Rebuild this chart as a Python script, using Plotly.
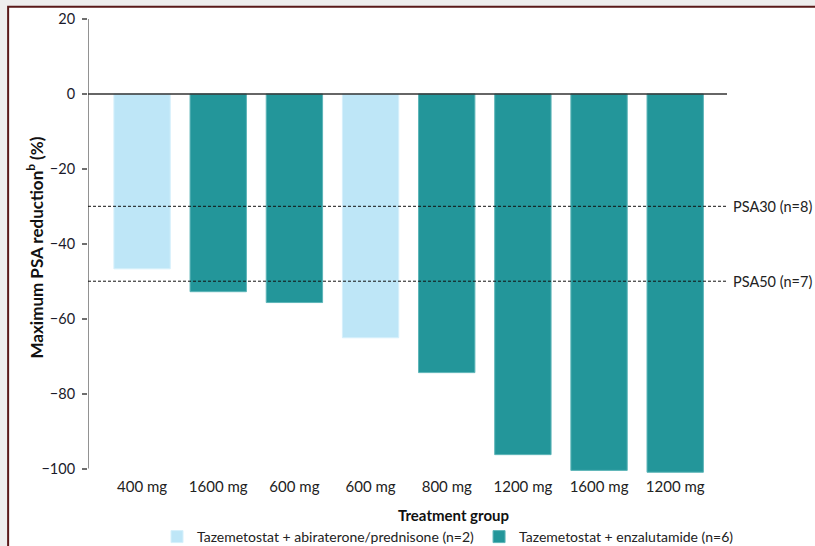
import plotly.graph_objects as go

# Treatment groups (dose per arm) and maximum PSA reduction, %
doses = ["400 mg", "1600 mg", "600 mg", "600 mg", "800 mg", "1200 mg", "1600 mg", "1200 mg"]
psa_change = [-46.7, -52.8, -55.7, -65.1, -74.4, -96.3, -100.5, -101.0]
combo = ["abi", "enza", "enza", "abi", "enza", "enza", "enza", "enza"]

abi_name = "Tazemetostat + abiraterone/prednisone (n=2)"
enza_name = "Tazemetostat + enzalutamide (n=6)"
abi_color = "#BEE6F7"
enza_color = "#23969A"

thresholds = [-30, -50]
threshold_labels = ["PSA30 (n=8)", "PSA50 (n=7)"]

yticks = [20, 0, -20, -40, -60, -80, -100]
ytick_text = ["20", "0", "\u221220", "\u221240", "\u221260", "\u221280", "\u2212100"]

FONT = "Lato"
idx = list(range(len(doses)))

fig = go.Figure()
for key, name, color, edge in [("abi", abi_name, abi_color, "#D6F0FB"),
                               ("enza", enza_name, enza_color, "#5DB5B8")]:
    xs = [i for i in idx if combo[i] == key]
    fig.add_trace(go.Bar(
        x=xs, y=[psa_change[i] for i in xs], name=name,
        marker=dict(color=color, line=dict(color=edge, width=1)),
        width=0.74,
    ))

x_lo, x_hi = -0.71, 7.68
plot_left, plot_width = 88, 639   # pixel columns of the plotting area
plot_top, plot_bottom = 19, 476   # pixel rows of the plotting area
plot_h = plot_bottom - plot_top

# frame around the figure
fig.add_shape(type="rect", xref="paper", yref="paper",
              x0=-0.125, x1=1.2, y0=-0.3, y1=1.027,
              fillcolor="white", line=dict(color="#5A1A1A", width=2), layer="below")

# y axis line from -100 to 20
fig.add_shape(type="line", xref="x", yref="y", x0=x_lo, x1=x_lo, y0=-100, y1=20,
              line=dict(color="#6E6E6E", width=1.5))
# zero baseline
fig.add_shape(type="line", xref="x", yref="y", x0=x_lo - 0.07, x1=x_hi, y0=0, y1=0,
              line=dict(color="#333333", width=1.5))

for t, lab in zip(thresholds, threshold_labels):
    fig.add_shape(type="line", xref="x", yref="y", x0=x_lo, x1=x_hi, y0=t, y1=t,
                  line=dict(color="#111111", width=1, dash="3px,2px"))
    fig.add_annotation(x=1, xref="paper", y=t, yref="y", text=lab, showarrow=False,
                       xanchor="left", xshift=4, font=dict(family=FONT, size=14.5, color="#222"))

# axis titles
fig.add_annotation(x=(453 - plot_left) / plot_width, xref="paper",
                   y=-(515 - plot_bottom) / plot_h, yref="paper",
                   text="<b>Treatment group</b>", showarrow=False,
                   xanchor="center", yanchor="middle",
                   font=dict(family=FONT, size=15, color="#111"))
fig.add_annotation(x=(35 - plot_left) / plot_width, xref="paper", y=0.5, yref="paper",
                   text="<b>Maximum PSA reduction<sup>b</sup> (%)</b>", showarrow=False,
                   textangle=-90, xanchor="center", yanchor="middle",
                   font=dict(family=FONT, size=17, color="#111"))

fig.update_layout(
    width=815, height=546,
    margin=dict(l=plot_left, r=815 - plot_left - plot_width, t=plot_top,
                b=546 - plot_bottom, autoexpand=False),
    paper_bgcolor="#EEEEEE", plot_bgcolor="white",
    barmode="overlay",
    font=dict(family=FONT, size=14, color="#222"),
    xaxis=dict(range=[x_lo, x_hi], tickmode="array", tickvals=idx, ticktext=doses,
               showline=False, showgrid=False, zeroline=False, ticks="",
               tickfont=dict(size=15)),
    yaxis=dict(range=[-102, 20], tickmode="array", tickvals=yticks, ticktext=ytick_text,
               showline=False, showgrid=False, zeroline=False,
               ticks="outside", ticklen=5, tickcolor="#6E6E6E", tickwidth=1.5,
               ticklabelstandoff=4,
               tickfont=dict(size=14.5, color="#1A1A2A")),
    legend=dict(orientation="h", x=0.108, xanchor="left",
                y=-(537 - plot_bottom) / plot_h, yanchor="middle",
                font=dict(size=14), bgcolor="rgba(0,0,0,0)", traceorder="normal"),
    showlegend=True,
)

fig.write_html("out.html")
